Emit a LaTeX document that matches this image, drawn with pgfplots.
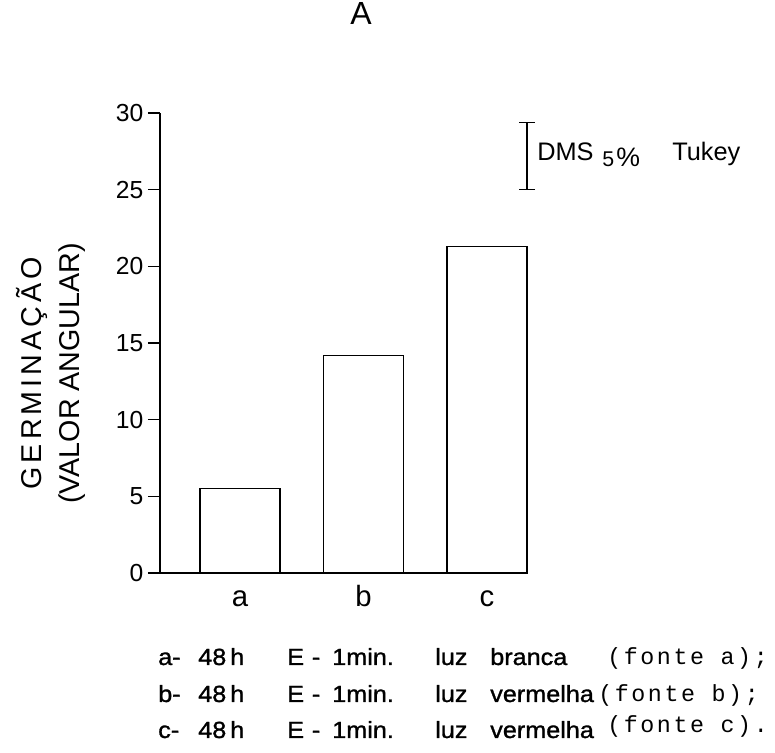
\documentclass[border=0pt]{standalone}
\usepackage{fontspec}
\setmainfont{Liberation Sans}
\newfontfamily\monof[LetterSpace=11]{Liberation Mono}
\newfontfamily\legf[FakeStretch=1.08,FakeBold=1.2]{Liberation Sans}
\newfontfamily\wide[LetterSpace=14]{Liberation Sans}
\usepackage{pgfplots}
\pgfplotsset{compat=1.18}
\newcommand\bt{\legf\fontsize{17.5}{19}\selectfont}
\newcommand\mt{\monof\fontsize{17.5}{20}\selectfont}
\begin{document}
\begin{tikzpicture}
\begin{axis}[
  at={(120pt,135pt)}, anchor=south west,
  scale only axis, width=275.25pt, height=345pt,
  xmin=-0.648, xmax=2.324, ymin=0, ymax=30,
  axis x line=bottom, axis y line=left,
  axis line style={-, line width=1.3pt},
  xtick={0,1,2}, xticklabels={a,b,c},
  ytick={0,5,...,30},
  tick align=outside,
  x tick style={draw=none},
  y tick style={line width=1pt, black},
  major tick length=9pt,
  /pgf/number format/assume math mode=true,
  y tick label style={font=\fontsize{18.5}{20}\selectfont},
  x tick label style={font=\fontsize{22}{24}\selectfont, text height=1ex, text depth=0pt, yshift=-7pt},
  ylabel={{\wide GERMINAÇÃO}\\(VALOR ANGULAR)},
  ylabel style={at={(axis description cs:-0.297,0.434)}, anchor=center, align=center, font=\fontsize{21.5}{28.5}\selectfont},
  title={A},
  title style={at={(axis description cs:0.548,1.174)}, anchor=base, font=\fontsize{24}{26}\selectfont},
  clip=false,
]
\addplot[ybar, bar width=0.65, fill=white, draw=black, line width=1.1pt] coordinates {(0,5.5) (1,14.2) (2,21.3)};
\addplot[black, mark=none, error bars/.cd, y dir=both, y explicit,
  error bar style={line width=1pt, black},
  error mark options={rotate=90, line width=1pt, black, mark size=6pt}] coordinates {(2.324,27.2) +- (0,2.2)};
\end{axis}
\begin{scope}[x=0.75pt,y=-0.75pt,shift={(0,564.75pt)}]
\node[anchor=base west, inner sep=0, font=\fontsize{19}{22}\selectfont] at (537,161) {DMS};
\node[anchor=base west, inner sep=0, font=\fontsize{16}{18}\selectfont] at (602,167) {5};
\node[anchor=base west, inner sep=0, font=\fontsize{20}{22}\selectfont] at (616,167) {\%};
\node[anchor=base west, inner sep=0, font=\fontsize{19}{22}\selectfont] at (672,161) {Tukey};
% legend lines
\foreach \l/\yy/\w/\mx/\my/\f/\e in {a/665/branca/607/665/a/;, b/702/vermelha/598/702/b/;, c/738/vermelha/607/733/c/.}{
  \node[anchor=base west, inner sep=0, font=\bt] at (158,\yy) {\l-};
  \node[anchor=base west, inner sep=0, font=\bt] at (198,\yy) {48\,h};
  \node[anchor=base west, inner sep=0, font=\bt] at (287,\yy) {E\,\,-};
  \node[anchor=base west, inner sep=0, font=\bt] at (332,\yy) {1min.};
  \node[anchor=base west, inner sep=0, font=\bt] at (435,\yy) {luz};
  \node[anchor=base west, inner sep=0, font=\bt] at (490,\yy) {\w};
  \node[anchor=base west, inner sep=0, font=\mt] at (\mx,\my) {(fonte \f)\e};
}
\end{scope}
\pgfresetboundingbox
\path[use as bounding box] (0,0) rectangle (581.25pt,564.75pt);
\end{tikzpicture}
\end{document}
